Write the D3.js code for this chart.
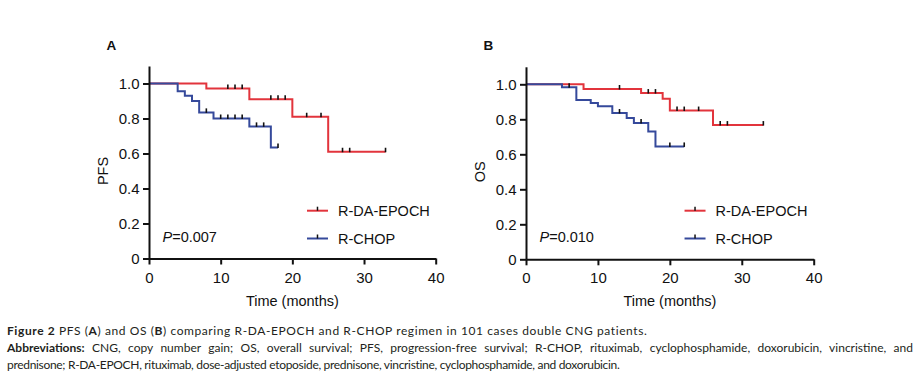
<!DOCTYPE html>
<html>
<head>
<meta charset="utf-8">
<script src="https://cdn.jsdelivr.net/npm/d3@7/dist/d3.min.js"></script>
<style>
  html, body { margin: 0; padding: 0; background: #fff; }
  svg { display: block; }
  .chart text { font-family: "Liberation Sans", Arial, sans-serif; fill: #111; }
  .cap text { font-family: Lato, "Open Sans", sans-serif; fill: #231f20; }
</style>
</head>
<body>
<svg id="fig" width="919" height="378"></svg>
<script>
// ---------------- data ----------------
const xTicks = [0, 10, 20, 30, 40];
const yTicks = [0, 0.2, 0.4, 0.6, 0.8, 1.0];
const yTickLabels = ["0", "0.2", "0.4", "0.6", "0.8", "1.0"];
const seriesNames = ["R-DA-EPOCH", "R-CHOP"];

// Panel A: PFS
const pfsEpochTimes  = [0, 8, 14, 20, 25];
const pfsEpochSurv   = [1.0, 0.972, 0.91, 0.81, 0.61];
const pfsEpochCensor = [11, 12, 13, 17, 18, 19, 22, 24, 27, 28, 33];
const pfsEpochEnd    = 33;

const pfsChopTimes  = [0, 4, 5, 6, 7, 9, 14, 17];
const pfsChopSurv   = [1.0, 0.956, 0.93, 0.90, 0.835, 0.80, 0.755, 0.635];
const pfsChopCensor = [8, 10, 11, 12, 13, 15, 16, 18];
const pfsChopEnd    = 18;

// Panel B: OS
const osEpochTimes  = [0, 8, 16, 19, 20, 26];
const osEpochSurv   = [1.0, 0.973, 0.95, 0.917, 0.85, 0.767];
const osEpochCensor = [13, 17, 18, 21, 22, 24, 27, 28, 33];
const osEpochEnd    = 33;

const osChopTimes  = [0, 5, 7, 9, 10, 12, 14, 15, 17, 18];
const osChopSurv   = [1.0, 0.983, 0.911, 0.893, 0.874, 0.836, 0.807, 0.779, 0.73, 0.645];
const osChopCensor = [6, 13, 16, 20, 22];
const osChopEnd    = 22;

const panelLetters = ["A", "B"];
const yLabels = ["PFS", "OS"];
const pValues = ["0.007", "0.010"];
const xLabel = "Time (months)";

// ---------------- drawing ----------------
const RED = "#e2343c", BLUE = "#35499b";
const svg = d3.select("#fig");

const panels = [
  { x0: 149, x1: 435.7, y0: 258.5, letter: panelLetters[0], ylab: yLabels[0], p: pValues[0],
    series: [
      { t: pfsEpochTimes, s: pfsEpochSurv, c: pfsEpochCensor, end: pfsEpochEnd, color: RED },
      { t: pfsChopTimes,  s: pfsChopSurv,  c: pfsChopCensor,  end: pfsChopEnd,  color: BLUE }
    ] },
  { x0: 526, x1: 813.7, y0: 259.3, letter: panelLetters[1], ylab: yLabels[1], p: pValues[1],
    series: [
      { t: osEpochTimes, s: osEpochSurv, c: osEpochCensor, end: osEpochEnd, color: RED },
      { t: osChopTimes,  s: osChopSurv,  c: osChopCensor,  end: osChopEnd,  color: BLUE }
    ] }
];

panels.forEach(P => {
  const g = svg.append("g").attr("class", "chart");
  const x = d3.scaleLinear().domain([0, 40]).range([P.x0, P.x1]);
  const y = d3.scaleLinear().domain([0, 1.1]).range([P.y0, P.y0 - 175 * 1.1]);

  // curves
  const line = d3.line().x(d => x(d[0])).y(d => y(d[1])).curve(d3.curveStepAfter);
  P.series.forEach(S => {
    const pts = S.t.map((t, i) => [t, S.s[i]]);
    pts.push([S.end, S.s[S.s.length - 1]]);
    g.append("path").attr("d", line(pts)).attr("fill", "none")
      .attr("stroke", S.color).attr("stroke-width", 2);
  });
  // censor marks
  P.series.forEach(S => {
    const survAt = c => { let v = S.s[0]; S.t.forEach((t, i) => { if (t <= c) v = S.s[i]; }); return v; };
    g.selectAll(null).data(S.c).enter().append("line")
      .attr("x1", d => x(d)).attr("x2", d => x(d))
      .attr("y1", d => y(survAt(d)) + 0.5).attr("y2", d => y(survAt(d)) - 4)
      .attr("stroke", "#111").attr("stroke-width", 1.6);
  });

  // axes
  const xa = g.append("g").attr("transform", `translate(0,${P.y0})`)
    .call(d3.axisBottom(x).tickValues(xTicks).tickSize(6).tickSizeOuter(0).tickPadding(7.5));
  const ya = g.append("g").attr("transform", `translate(${P.x0},0)`)
    .call(d3.axisLeft(y).tickValues(yTicks).tickFormat((d, i) => yTickLabels[i])
      .tickSize(6).tickSizeOuter(0).tickPadding(3.5));
  [xa, ya].forEach(a => {
    a.selectAll("path").attr("stroke", "#111").attr("stroke-width", 2);
    a.selectAll("line").attr("stroke", "#111").attr("stroke-width", 2);
    a.selectAll("text").attr("font-size", 15).attr("fill", "#111")
      .attr("font-family", '"Liberation Sans", Arial, sans-serif');
  });

  // labels
  g.append("text").attr("x", P.x0 - 42.5).attr("y", 50)
    .attr("font-size", 13.5).attr("font-weight", "bold").text(P.letter);
  g.append("text").attr("transform", `translate(${P.x0 - 41},${y(0.5)}) rotate(-90)`)
    .attr("text-anchor", "middle").attr("font-size", 14.5).text(P.ylab);
  g.append("text").attr("x", x(20)).attr("y", 305.5).attr("text-anchor", "middle")
    .attr("font-size", 14.5).text(xLabel);

  const pt = g.append("text").attr("x", P.x0 + 13.5).attr("y", 241.5).attr("font-size", 14.5);
  pt.append("tspan").attr("font-style", "italic").text("P");
  pt.append("tspan").text("=" + P.p);

  // legend
  const lx = x(22) + 0.3, ly = [210.7, 238.5];
  P.series.forEach((S, i) => {
    g.append("line").attr("x1", lx).attr("x2", lx + 21).attr("y1", ly[i]).attr("y2", ly[i])
      .attr("stroke", S.color).attr("stroke-width", 2);
    g.append("line").attr("x1", lx + 10.5).attr("x2", lx + 10.5).attr("y1", ly[i]).attr("y2", ly[i] - 4)
      .attr("stroke", "#111").attr("stroke-width", 1.5);
    g.append("text").attr("x", lx + 31).attr("y", ly[i] + 5.3).attr("font-size", 14.5).text(seriesNames[i]);
  });
});

// ---------------- caption ----------------
const cap = svg.append("g").attr("class", "cap");
const capLines = [
  { y: 335, w: 640, justify: false, parts: [["Figure 2", true], [" PFS (", false], ["A", true], [") and OS (", false], ["B", true],
      [") comparing R-DA-EPOCH and R-CHOP regimen in 101 cases double CNG patients.", false]] },
  { y: 352, w: 906, justify: true, parts: [["Abbreviations:", true],
      [" CNG, copy number gain; OS, overall survival; PFS, progression-free survival; R-CHOP, rituximab, cyclophosphamide, doxorubicin, vincristine, and", false]] },
  { y: 368.5, w: 613, justify: false, parts: [["prednisone; R-DA-EPOCH, rituximab, dose-adjusted etoposide, prednisone, vincristine, cyclophosphamide, and doxorubicin.", false]] }
];
capLines.forEach(L => {
  const t = cap.append("text").attr("x", 7).attr("y", L.y).attr("font-size", 12);
  L.parts.forEach(p => t.append("tspan").attr("font-weight", p[1] ? "bold" : "normal").text(p[0]));
  const len = t.node().getComputedTextLength();
  const full = L.parts.map(p => p[0]).join("");
  if (L.justify) {
    const nSp = (full.match(/ /g) || []).length;
    t.style("word-spacing", ((L.w - len) / nSp) + "px");
  } else {
    t.style("letter-spacing", ((L.w - len) / (full.length - 1)) + "px");
  }
});
</script>
</body>
</html>
